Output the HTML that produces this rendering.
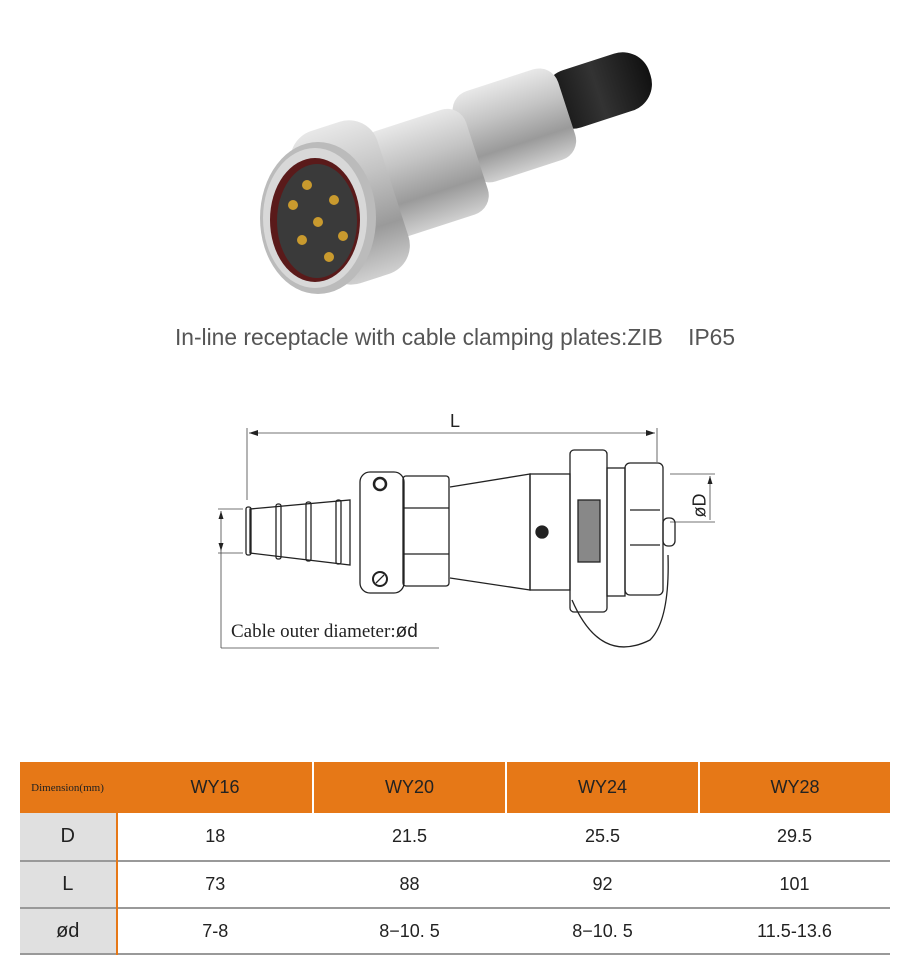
<!DOCTYPE html>
<html><head><meta charset="utf-8"><style>
body{margin:0;width:910px;height:977px;background:#fff;position:relative;overflow:hidden;font-family:"Liberation Sans",sans-serif}
.cap{position:absolute;left:0;width:910px;top:324px;text-align:center;font-size:22.8px;color:#555}
table{position:absolute;left:20px;top:762px;border-collapse:collapse;font-family:"Liberation Sans",sans-serif;color:#222}
td{text-align:center;font-size:18px;padding:0}
</style></head><body>
<svg width="910" height="320" style="position:absolute;left:0;top:0">
<defs>
<linearGradient id="m" x1="0" y1="0" x2="0" y2="1"><stop offset="0" stop-color="#e8e8e8"/><stop offset=".35" stop-color="#c4c4c4"/><stop offset=".7" stop-color="#9a9a9a"/><stop offset="1" stop-color="#d0d0d0"/></linearGradient>
<linearGradient id="b" x1="0" y1="0" x2="1" y2="0"><stop offset="0" stop-color="#111"/><stop offset=".5" stop-color="#333"/><stop offset="1" stop-color="#111"/></linearGradient>
</defs>
<g transform="rotate(-18 450 170)">
<rect x="560" y="110" width="110" height="60" rx="28" fill="url(#b)"/>
<rect x="470" y="100" width="110" height="95" rx="20" fill="url(#m)"/>
<rect x="370" y="110" width="110" height="110" rx="20" fill="url(#m)"/>
<rect x="300" y="90" width="90" height="160" rx="30" fill="url(#m)"/>
</g>
<ellipse cx="318" cy="218" rx="58" ry="76" fill="#bbb"/>
<ellipse cx="315" cy="218" rx="52" ry="70" fill="#d8d8d8"/>
<ellipse cx="315" cy="220" rx="45" ry="62" fill="#5a1a1a"/>
<ellipse cx="317" cy="221" rx="40" ry="57" fill="#3a3a3a"/>
<g fill="#c99a2e"><circle cx="307" cy="185" r="5"/><circle cx="334" cy="200" r="5"/><circle cx="293" cy="205" r="5"/><circle cx="318" cy="222" r="5"/><circle cx="302" cy="240" r="5"/><circle cx="343" cy="236" r="5"/><circle cx="329" cy="257" r="5"/></g>
</svg>
<div class="cap">In-line receptacle with cable clamping plates:ZIB&nbsp;&nbsp;&nbsp;&nbsp;IP65</div>
<div style="position:absolute;left:450px;top:411px;font-size:18px;color:#222">L</div>
<svg width="910" height="320" style="position:absolute;left:0;top:400px" viewBox="0 400 910 320" fill="none" stroke="#222" stroke-width="1.3">
<g stroke-width="0.8" stroke="#444">
<line x1="247" y1="428" x2="247" y2="500"/><line x1="657" y1="428" x2="657" y2="462"/>
<line x1="249" y1="433" x2="655" y2="433"/>
<line x1="218" y1="509" x2="243" y2="509"/><line x1="218" y1="553" x2="243" y2="553"/>
<line x1="221" y1="511" x2="221" y2="648"/><line x1="221" y1="648" x2="439" y2="648"/>
<line x1="670" y1="474" x2="715" y2="474"/><line x1="670" y1="522" x2="715" y2="522"/><line x1="710" y1="476" x2="710" y2="520"/>
</g>
<g fill="#222" stroke="none">
<path d="M249 433 l9 -3 v6z"/><path d="M655 433 l-9 -3 v6z"/>
<path d="M221 511 l-2.5 8 h5z"/><path d="M221 551 l-2.5 -8 h5z"/>
<path d="M710 476 l-2.5 8 h5z"/>
</g>
<path d="M250 509 L350 500 L350 565 L250 553 Z"/>
<rect x="246" y="507" width="5" height="48" rx="2"/><rect x="276" y="504" width="5" height="55" rx="2"/><rect x="306" y="502" width="5" height="59" rx="2"/><rect x="336" y="500" width="5" height="64" rx="2"/>
<rect x="360" y="472" width="44" height="121" rx="10"/>
<circle cx="380" cy="484" r="6" stroke-width="2.5"/><circle cx="380" cy="579" r="7" stroke-width="2"/>
<line x1="376" y1="583" x2="384" y2="575"/>
<rect x="403" y="476" width="46" height="110" rx="3"/>
<line x1="403" y1="508" x2="449" y2="508"/><line x1="403" y1="554" x2="449" y2="554"/>
<path d="M450 487 L530 474 L530 590 L450 578"/>
<rect x="530" y="474" width="40" height="116"/>
<circle cx="542" cy="532" r="6" fill="#222"/>
<rect x="570" y="450" width="37" height="162" rx="4"/>
<rect x="578" y="500" width="22" height="62" fill="#888"/>
<rect x="607" y="468" width="18" height="128"/>
<rect x="625" y="463" width="38" height="132" rx="5"/>
<line x1="630" y1="510" x2="660" y2="510"/><line x1="630" y1="545" x2="660" y2="545"/>
<rect x="663" y="518" width="12" height="28" rx="5"/>
<path d="M572 600 Q600 665 650 640 Q670 620 668 555"/>
</svg>
<div style="position:absolute;left:231px;top:621px;font-family:'Liberation Serif',serif;font-size:19px;color:#222">Cable outer diameter:<span style="font-family:'Liberation Sans',sans-serif">ød</span></div>
<div style="position:absolute;left:680px;top:495px;transform:rotate(-90deg);font-size:18px;color:#222;width:40px;text-align:center">øD</div>
<table>
<tr style="height:51px;background:#e67817"><td style="width:95px;font-family:'Liberation Serif',serif;font-size:11px;border-right:3px solid #e67817">Dimension(mm)</td><td style="width:194px;border-right:2px solid #fff">WY16</td><td style="width:191px;border-right:2px solid #fff">WY20</td><td style="width:191px;border-right:2px solid #fff">WY24</td><td style="width:190px">WY28</td></tr>
<tr style="height:48px;border-bottom:2px solid #999"><td style="background:#e0e0e0;border-right:2px solid #e67817;font-size:20px">D</td><td>18</td><td>21.5</td><td>25.5</td><td>29.5</td></tr>
<tr style="height:47px;border-bottom:2px solid #999"><td style="background:#e0e0e0;border-right:2px solid #e67817;font-size:20px">L</td><td>73</td><td>88</td><td>92</td><td>101</td></tr>
<tr style="height:46px;border-bottom:2px solid #999"><td style="background:#e0e0e0;border-right:2px solid #e67817;font-size:20px">ød</td><td>7-8</td><td>8−10. 5</td><td>8−10. 5</td><td>11.5-13.6</td></tr>
</table>
</body></html>
